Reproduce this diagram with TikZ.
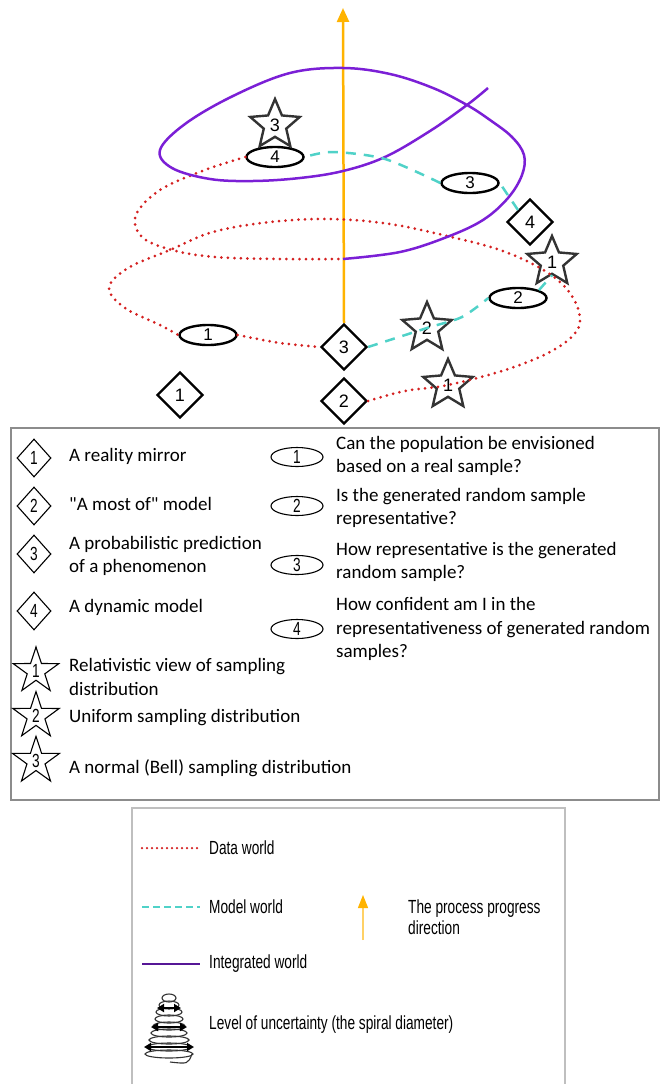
\documentclass[tikz,border=0pt]{standalone}
\usepackage{fontspec}
\setmainfont{Carlito}[Ligatures=TeXOff]
\newfontfamily\arialfont{Liberation Sans}
\newfontfamily\narrowfont[FakeStretch=0.72]{Liberation Sans}
\usetikzlibrary{shapes.geometric,arrows.meta}
\definecolor{datared}{RGB}{212,32,32}
\definecolor{modelcyan}{RGB}{80,210,200}
\definecolor{intpurple}{RGB}{123,31,214}
\definecolor{progyellow}{RGB}{255,179,0}
\begin{document}
\begin{tikzpicture}[x=1pt,y=-1pt,
  mdiam/.style={diamond,draw,fill=white,line width=2.2pt,minimum size=46pt,inner sep=0pt,font=\arialfont\fontsize{18}{18}\selectfont},
  mell/.style={ellipse,draw,fill=white,line width=2.4pt,minimum width=57pt,minimum height=20pt,inner sep=0pt,font=\arialfont\fontsize{17}{17}\selectfont},
  mstar/.style={star,star point ratio=2.2,draw=black!80,line width=2.4pt,minimum size=52pt,inner sep=0pt,font=\arialfont\fontsize{18}{18}\selectfont},
  ldiam/.style={diamond,draw,line width=1.1pt,minimum width=34pt,minimum height=38pt,inner sep=0pt,font=\narrowfont\fontsize{19}{19}\selectfont},
  lell/.style={ellipse,draw,line width=1.1pt,minimum width=52pt,minimum height=19pt,inner sep=0pt,font=\narrowfont\fontsize{19}{19}\selectfont},
  lstar/.style={star,star point ratio=2.6,draw,line width=1.1pt,minimum size=48pt,inner sep=0pt,font=\narrowfont\fontsize{19}{19}\selectfont},
  ltext/.style={anchor=west,align=left,inner sep=0pt,font=\fontsize{19}{23.5}\selectfont},
  btext/.style={anchor=west,align=left,inner sep=0pt,font=\narrowfont\fontsize{19}{21}\selectfont},
  datapath/.style={datared,line width=3pt,line cap=round,dash pattern=on 0pt off 6.5pt},
  modelpath/.style={modelcyan,line width=2.5pt,dash pattern=on 10pt off 8pt},
  intpath/.style={intpurple,line width=2.5pt},
  progpath/.style={progyellow,line width=2.5pt,-{Triangle[width=12pt,length=14pt]}}]
\useasboundingbox (0,0) rectangle (660,1084);

\node[mdiam] (d1) at (180,395) {1};
\node[mdiam] (d2) at (344,401) {2};
\node[mdiam] (d3) at (344,347) {3};
\node[mdiam] (d4) at (530,222) {4};
\node[mell] (e1) at (208,335) {1};
\node[mell] (e2) at (518,298) {2};
\node[mell] (e3) at (470,183) {3};
\node[mell] (e4) at (275,157) {4};
\node[mstar] (s1b) at (448,385) {1};
\node[mstar] (s1a) at (552,262) {1};
\node[mstar] (s2) at (427,328) {2};
\node[mstar] (s3) at (275,125) {3};
\coordinate (mid) at (343,259);
\coordinate (pend) at (488,88);
\coordinate (top) at (343,8);

\draw[progpath] (d3.north) -- (top);
\draw[datapath] plot[smooth,tension=0.6] coordinates {(d2.east) (405,391) (s1b) (505,370) (550,352) (576,332) (579,312) (566,288) (540,268) (500,250) (447,236) (390,224) (330,219) (270,222) (213,232) (170,250) (128,268) (109,288) (125,308) (160,325) (e1.west)};
\draw[datapath] plot[smooth] coordinates {(e1.east) (280,343) (d3.west)};
\draw[datapath] plot[smooth,tension=0.6] coordinates {(e4.west) (205,170) (160,190) (136,215) (142,237) (172,250) (215,257) (280,259) (mid)};
\draw[intpath] plot[smooth,tension=0.6] coordinates {(mid) (400,252) (447,237) (483,220) (508,198) (522,175) (524,155) (512,137) (490,120) (467,105) (433,88) (390,74) (343,68) (290,73) (233,96) (185,124) (160,150) (172,168) (210,179) (253,181) (300,178) (343,171) (385,157) (430,131) (467,105) (pend)};
\draw[modelpath] plot[smooth] coordinates {(d3.east) (s2) (462,317) (e2.west)};
\draw[modelpath] (e2.north east) -- (s1a.south);
\draw[modelpath] (d4.north west) -- (e3.east);
\draw[modelpath] plot[smooth] coordinates {(e3.west) (385,159) (333,152) (e4.east)};

\draw[black!45,line width=1.3pt] (11,428) rectangle (659,800);
\node[ldiam] (ld1) at (34,458) {1};
\node[ldiam] (ld2) at (34,506) {2};
\node[ldiam] (ld3) at (34,554) {3};
\node[ldiam] (ld4) at (34,611) {4};
\node[lstar] (ls1) at (36,671) {1};
\node[lstar] (ls2) at (36,716) {2};
\node[lstar] (ls3) at (36,761) {3};
\node[ltext] (tr) at (69,456) {A reality mirror};
\node[ltext] (tm) at (69,504) {"A most of" model};
\node[ltext] (tp) at (69,556) {A probabilistic prediction\\of a phenomenon};
\node[ltext] (td) at (69,607) {A dynamic model};
\node[ltext] (tv) at (69,677) {Relativistic view of sampling\\distribution};
\node[ltext] (tu) at (69,718) {Uniform sampling distribution};
\node[ltext] (tn) at (69,768) {A normal (Bell) sampling distribution};
\node[lell] (le1) at (297,457) {1};
\node[lell] (le2) at (297,506) {2};
\node[lell] (le3) at (297,565) {3};
\node[lell] (le4) at (297,629) {4};
\node[ltext] (q1) at (336,456) {Can the population be envisioned\\based on a real sample?};
\node[ltext] (q2) at (336,508) {Is the generated random sample\\representative?};
\node[ltext] (q3) at (336,562) {How representative is the generated\\random sample?};
\node[ltext] (q4) at (336,629) {How confident am I in the\\representativeness of generated random\\samples?};

\draw[black!25,line width=1.2pt] (132,1090) |- (565,808) -- (565,1090);
\draw[datapath,line width=2.5pt,dash pattern=on 0pt off 5pt] (142,848) -- (200,848);
\node[btext] (ldata) at (209,848) {Data world};
\draw[modelpath,line width=2.2pt,dash pattern=on 7pt off 4pt] (142,907) -- (200,907);
\node[btext] (lmodel) at (209,907) {Model world};
\draw[intpath,color=intpurple!70!black,line width=2.2pt] (142,964) -- (200,964);
\node[btext] (lint) at (209,964) {Integrated world};
\draw[progyellow!60,line width=1.2pt,-{Triangle[width=10pt,length=13pt,color=progyellow]}] (363,940) -- (363,895);
\node[btext] (lprog) at (408,917) {The process progress\\direction};
\foreach \yy/\rx in {998/7,1005/10,1012/13,1019/14,1026/16,1033/18,1040/20,1047/22,1054/24}
  \draw[black!80,line width=1.1pt] (169,\yy) ellipse ({\rx} and 4);
\draw[black!80,line width=1.1pt] (192,1054) .. controls (188,1064) .. (170,1062);
\foreach \yy/\hw in {1008/12,1027/18,1047/25}
  \draw[black,line width=2pt,{Triangle[width=8pt,length=7pt]}-{Triangle[width=8pt,length=7pt]}] (169-\hw,\yy) -- (169+\hw,\yy);
\node[btext] (lunc) at (209,1025) {Level of uncertainty (the spiral diameter)};
\end{tikzpicture}
\end{document}
